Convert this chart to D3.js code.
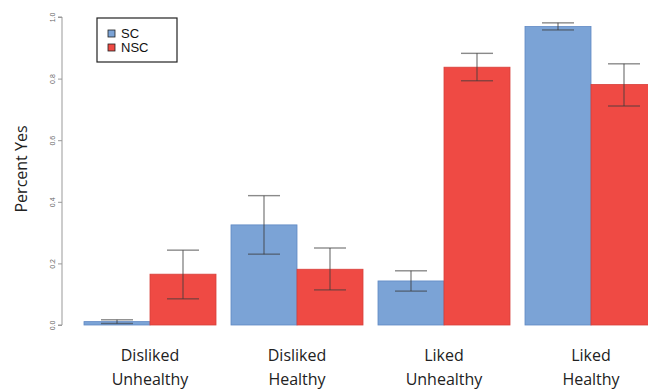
<!DOCTYPE html>
<html>
<head>
<meta charset="utf-8">
<script src="https://cdn.jsdelivr.net/npm/d3@7"></script>
<style>
  html, body { margin: 0; padding: 0; background: #fff; }
  svg { display: block; }
</style>
</head>
<body>
<svg id="chart" width="648" height="389"></svg>
<script>
// Categories and series
const categories = [["Disliked", "Unhealthy"], ["Disliked", "Healthy"], ["Liked", "Unhealthy"], ["Liked", "Healthy"]];
const seriesNames = ["SC", "NSC"];
const scValues  = [0.011, 0.325, 0.143, 0.969];
const nscValues = [0.165, 0.181, 0.837, 0.781];
// Error bar bounds (lower, upper)
const scLow   = [0.005, 0.230, 0.110, 0.958];
const scHigh  = [0.017, 0.420, 0.176, 0.981];
const nscLow  = [0.085, 0.114, 0.793, 0.711];
const nscHigh = [0.243, 0.250, 0.882, 0.848];
const yTicks = [0.0, 0.2, 0.4, 0.6, 0.8, 1.0];

const colors = { SC: "#7ba3d6", NSC: "#ef4a44" };
const strokes = { SC: "#5f88c4", NSC: "#d8403b" };

const svg = d3.select("#chart");

const y = d3.scaleLinear().domain([0, 1]).range([325, 17]);
const x0 = d3.scaleBand().domain(d3.range(categories.length)).range([84, 657]).paddingInner(15 / 147).paddingOuter(0);
const x1 = d3.scaleBand().domain(seriesNames).range([0, x0.bandwidth()]);

// y axis (R-style with rotated labels)
const axisX = 62;
const yAxis = d3.axisLeft(y).tickValues(yTicks).tickSize(4).tickFormat(d3.format(".1f"));
const gy = svg.append("g").attr("transform", `translate(${axisX},0)`).call(yAxis);
gy.select(".domain").attr("stroke", "#999").attr("d", `M-4,${y(1)}H0V${y(0)}H-4`);
gy.selectAll(".tick line").attr("stroke", "#999");
gy.selectAll(".tick text")
  .attr("x", null).attr("y", null).attr("dy", "0.35em")
  .attr("transform", "translate(-9,0) rotate(-90)")
  .attr("text-anchor", "middle")
  .attr("fill", "#666")
  .style("font-family", "Liberation Sans, Arial, sans-serif")
  .style("font-size", "7px");

// y axis title
svg.append("text")
  .attr("transform", `translate(21,169) rotate(-90)`)
  .attr("text-anchor", "middle")
  .attr("dy", "0.35em")
  .style("font-family", "Open Sans, sans-serif")
  .style("font-size", "16px")
  .attr("fill", "#222")
  .text("Percent Yes");

const rows = categories.map((c, i) => ({
  i,
  bars: [
    { key: "SC", v: scValues[i], lo: scLow[i], hi: scHigh[i] },
    { key: "NSC", v: nscValues[i], lo: nscLow[i], hi: nscHigh[i] }
  ]
}));

const groups = svg.append("g").selectAll("g").data(rows).join("g")
  .attr("transform", d => `translate(${x0(d.i)},0)`);

groups.selectAll("rect").data(d => d.bars).join("rect")
  .attr("x", d => x1(d.key))
  .attr("y", d => y(d.v))
  .attr("width", x1.bandwidth())
  .attr("height", d => y(0) - y(d.v))
  .attr("fill", d => colors[d.key])
  .attr("stroke", d => strokes[d.key])
  .attr("stroke-width", 0.8);

// error bars
const capHalf = 16;
const eb = groups.selectAll("g.err").data(d => d.bars).join("g").attr("class", "err")
  .attr("stroke", "rgba(60,60,60,0.6)")
  .attr("stroke-width", 1.4);
eb.append("line")
  .attr("x1", d => x1(d.key) + x1.bandwidth() / 2)
  .attr("x2", d => x1(d.key) + x1.bandwidth() / 2)
  .attr("y1", d => y(d.lo)).attr("y2", d => y(d.hi));
eb.append("line")
  .attr("x1", d => x1(d.key) + x1.bandwidth() / 2 - capHalf)
  .attr("x2", d => x1(d.key) + x1.bandwidth() / 2 + capHalf)
  .attr("y1", d => y(d.hi)).attr("y2", d => y(d.hi));
eb.append("line")
  .attr("x1", d => x1(d.key) + x1.bandwidth() / 2 - capHalf)
  .attr("x2", d => x1(d.key) + x1.bandwidth() / 2 + capHalf)
  .attr("y1", d => y(d.lo)).attr("y2", d => y(d.lo));

// category labels
const labels = svg.append("g").selectAll("text").data(rows).join("text")
  .attr("text-anchor", "middle")
  .style("font-family", "Open Sans, sans-serif")
  .style("font-size", "16px")
  .attr("fill", "#222");
labels.each(function(d) {
  const t = d3.select(this);
  const cx = x0(d.i) + x0.bandwidth() / 2;
  t.append("tspan").attr("x", cx).attr("y", 361).text(categories[d.i][0]);
  t.append("tspan").attr("x", cx).attr("y", 385).text(categories[d.i][1]);
});

// legend
const lg = svg.append("g").attr("transform", "translate(97,18)");
lg.append("rect").attr("width", 80).attr("height", 44)
  .attr("fill", "#fff").attr("stroke", "#222").attr("stroke-width", 1.2);
seriesNames.forEach((s, i) => {
  lg.append("rect")
    .attr("x", 11).attr("y", 12 + i * 14)
    .attr("width", 7).attr("height", 7)
    .attr("fill", colors[s]).attr("stroke", "#222").attr("stroke-width", 0.8);
  lg.append("text")
    .attr("x", 24).attr("y", 20 + i * 14)
    .style("font-family", "Liberation Sans, Arial, sans-serif")
    .style("font-size", "13px")
    .attr("fill", "#111")
    .text(s);
});
</script>
</body>
</html>
